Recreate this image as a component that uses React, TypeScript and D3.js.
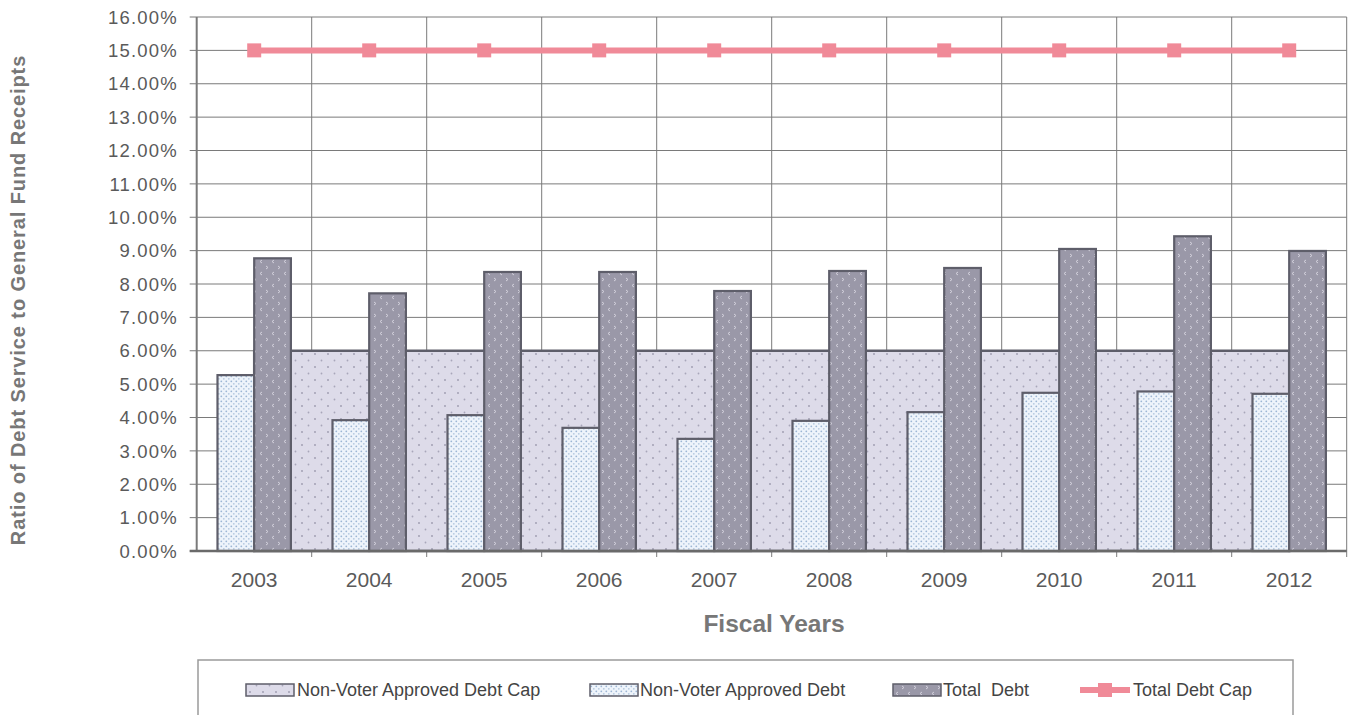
import React from "react";
import * as d3 from "d3";

const years = ["2003", "2004", "2005", "2006", "2007", "2008", "2009", "2010", "2011", "2012"];
const nonVoterCap = [0.06, 0.06, 0.06, 0.06, 0.06, 0.06, 0.06, 0.06, 0.06, 0.06];
const nonVoterDebt = [0.0527, 0.0392, 0.0407, 0.0369, 0.0336, 0.039, 0.0416, 0.0474, 0.0478, 0.0471];
const totalDebt = [0.0877, 0.0772, 0.0836, 0.0836, 0.0779, 0.0839, 0.0848, 0.0905, 0.0943, 0.0899];
const totalDebtCap = [0.15, 0.15, 0.15, 0.15, 0.15, 0.15, 0.15, 0.15, 0.15, 0.15];
const yTicks = d3.range(0, 17).map((d) => d / 100);
const legendLabels = ["Non-Voter Approved Debt Cap", "Non-Voter Approved Debt", "Total  Debt", "Total Debt Cap"];

const W = 1350;
const H = 715;
const left = 196.7;
const right = 1346.7;
const top = 17;
const bottom = 551;

export default function App() {
  const x = d3.scaleBand<string>().domain(years).range([left, right]).padding(0);
  const y = d3.scaleLinear().domain([0, 0.16]).range([bottom, top]);
  const bw = x.bandwidth();
  const barW = 36.7;
  const center = (yr: string) => (x(yr) as number) + bw / 2;

  const capArea = d3
    .area<number>()
    .x((_, i) => center(years[i]))
    .y0(y(0))
    .y1((d) => y(d))(nonVoterCap) as string;

  const capLine = d3
    .line<number>()
    .x((_, i) => center(years[i]))
    .y((d) => y(d))(totalDebtCap) as string;

  const gray = "#5e5e6a";
  const textColor = "#5a5a5a";
  const font = "Arial, 'Liberation Sans', sans-serif";

  const legendY = 690;
  const legendItems = [
    { sx: 246, tx: 297, fill: "url(#capPat)" },
    { sx: 590, tx: 640, fill: "url(#nvPat)" },
    { sx: 893, tx: 943, fill: "url(#tdPat)" },
    { sx: 1080, tx: 1133, fill: "line" },
  ];

  return (
    <svg width={W} height={H} style={{ position: "absolute", left: 0, top: 0, background: "#fff" }}>
      <defs>
        <pattern id="capPat" width="13" height="13" patternUnits="userSpaceOnUse">
          <rect width="13" height="13" fill="#dddbe9" />
          <circle cx="3" cy="3" r="0.9" fill="#9c9aae" />
          <circle cx="9.5" cy="9.5" r="0.9" fill="#a8a6ba" />
        </pattern>
        <pattern id="nvPat" width="5" height="5" patternUnits="userSpaceOnUse">
          <rect width="5" height="5" fill="#eef4fb" />
          <circle cx="1.3" cy="1.3" r="0.9" fill="#9cb6d4" />
          <circle cx="3.8" cy="3.8" r="0.9" fill="#b5c9e0" />
        </pattern>
        <pattern id="tdPat" width="12" height="12" patternUnits="userSpaceOnUse">
          <rect width="12" height="12" fill="#9a98a8" />
          <path d="M2 2 L4 3.5 L2 5" stroke="#d2d0dc" strokeWidth="1" fill="none" />
          <path d="M10 8 L8 9.5 L10 11" stroke="#d2d0dc" strokeWidth="1" fill="none" />
        </pattern>
      </defs>

      {/* horizontal gridlines */}
      {yTicks.map((t) => (
        <line key={"h" + t} x1={left - 7} x2={right} y1={y(t)} y2={y(t)} stroke="#7a7a7a" strokeWidth={1} />
      ))}
      {/* vertical gridlines */}
      {years.map((yr, i) =>
        i === 0 ? null : (
          <line key={"v" + yr} x1={x(yr)} x2={x(yr)} y1={top} y2={bottom + 6} stroke="#7a7a7a" strokeWidth={1} />
        )
      )}
      <line x1={right} x2={right} y1={top} y2={bottom + 6} stroke="#7a7a7a" strokeWidth={1} />

      {/* cap area */}
      <path d={capArea} fill="url(#capPat)" stroke={gray} strokeWidth={2.5} />

      {/* bars */}
      {years.map((yr, i) => {
        const c = center(yr);
        return (
          <g key={"b" + yr}>
            <rect
              x={c - barW}
              y={y(nonVoterDebt[i])}
              width={barW}
              height={y(0) - y(nonVoterDebt[i])}
              fill="url(#nvPat)"
              stroke={gray}
              strokeWidth={2.2}
            />
            <rect
              x={c}
              y={y(totalDebt[i])}
              width={barW}
              height={y(0) - y(totalDebt[i])}
              fill="url(#tdPat)"
              stroke={gray}
              strokeWidth={2.2}
            />
          </g>
        );
      })}

      {/* axes */}
      <line x1={left} x2={left} y1={top} y2={bottom} stroke="#7a7a7a" strokeWidth={2} />
      <line x1={left - 7} x2={right} y1={bottom} y2={bottom} stroke="#6a6a6a" strokeWidth={2.5} />

      {/* total debt cap line */}
      <path d={capLine} fill="none" stroke="#f08a98" strokeWidth={6} />
      {totalDebtCap.map((v, i) => (
        <rect key={"m" + i} x={center(years[i]) - 7} y={y(v) - 7} width={14} height={14} fill="#f08a98" />
      ))}

      {/* y tick labels */}
      {yTicks.map((t) => (
        <text
          key={"yt" + t}
          x={178}
          y={y(t)}
          dy="0.36em"
          textAnchor="end"
          fontFamily={font}
          fontSize={18.5}
          letterSpacing={1.2}
          fill={textColor}
        >
          {(t * 100).toFixed(2) + "%"}
        </text>
      ))}

      {/* x tick labels */}
      {years.map((yr) => (
        <text
          key={"xt" + yr}
          x={center(yr)}
          y={587}
          textAnchor="middle"
          fontFamily={font}
          fontSize={21}
          fill={textColor}
        >
          {yr}
        </text>
      ))}

      {/* axis titles */}
      <text x={774} y={632} textAnchor="middle" fontFamily={font} fontSize={24.5} fontWeight="bold" fill="#777">
        Fiscal Years
      </text>
      <text
        transform={`translate(25, ${(52 + 548) / 2}) rotate(-90)`}
        textAnchor="middle"
        fontFamily={font}
        fontSize={20}
        letterSpacing={0.9}
        fontWeight="bold"
        fill="#777"
      >
        Ratio of Debt Service to General Fund Receipts
      </text>

      {/* legend */}
      <rect x={198} y={660} width={1095} height={70} fill="#fff" stroke="#9a9a9a" strokeWidth={1.5} />
      {legendItems.map((it, i) => (
        <g key={"lg" + i}>
          {it.fill === "line" ? (
            <g>
              <line x1={it.sx} x2={it.sx + 50} y1={legendY} y2={legendY} stroke="#f08a98" strokeWidth={6} />
              <rect x={it.sx + 18} y={legendY - 7} width={14} height={14} fill="#f08a98" />
            </g>
          ) : (
            <rect x={it.sx} y={legendY - 6} width={48} height={12} fill={it.fill} stroke={gray} strokeWidth={1.5} />
          )}
          <text
            x={it.tx}
            y={legendY}
            dy="0.36em"
            fontFamily={font}
            fontSize={18}
            fill="#444"
            style={{ whiteSpace: "pre" }}
          >
            {legendLabels[i]}
          </text>
        </g>
      ))}
    </svg>
  );
}
